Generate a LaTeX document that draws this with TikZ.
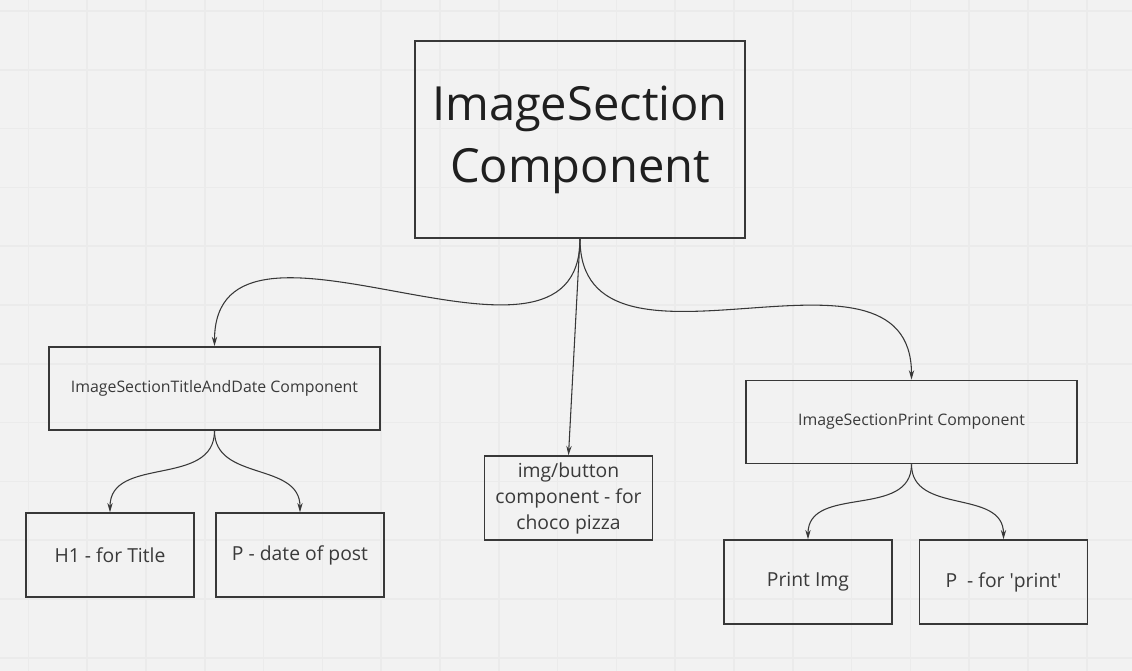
\documentclass[tikz,border=0pt]{standalone}
\usepackage{fontspec}
\setmainfont{Open Sans}
\usetikzlibrary{arrows.meta}
\definecolor{boardbg}{HTML}{F2F2F2}
\definecolor{gridline}{HTML}{EBEBEB}
\definecolor{boxline}{HTML}{383838}
\definecolor{labeltext}{HTML}{3A3A3A}

\begin{document}
\begin{tikzpicture}[
x=0.75pt, y=0.75pt,
>={Stealth[length=7pt,width=4pt]},
comp/.style={draw=boxline, line width=1.1pt, text=labeltext, align=center, inner sep=0pt},
mainbox/.style={comp, minimum width=247.5pt, minimum height=147.75pt, text=black!88, font=\fontsize{35.3}{46.5}\selectfont},
widebox/.style={comp, minimum width=248.25pt, minimum height=62.5pt, font=\fontsize{11.9}{14}\selectfont},
leafbox/.style={comp, minimum width=126.25pt, minimum height=63pt, font=\fontsize{14.5}{19.5}\selectfont},
arrow/.style={draw=boxline, line width=0.8pt, ->}
]

\fill[boardbg] (0,0) rectangle (1132,671);
\useasboundingbox (0,0) rectangle (1132,671);
\foreach \i in {0,...,19}
  \draw[gridline, line width=1.2pt] ({28.3+58.8*\i},0) -- ++(0,671);
\foreach \i in {0,...,11}
  \draw[gridline, line width=1.2pt] (0,{660-58.8*\i}) -- ++(1132,0);

\node[mainbox] (imagesection) at (580,531.5) {ImageSection\\Component};
\node[widebox] (titleanddate) at (214.5,282.5) {ImageSectionTitleAndDate Component};
\node[widebox] (print) at (911.5,249) {ImageSectionPrint Component};
\node[leafbox] (imgbutton) at (568.5,173) {img/button\\component - for\\choco pizza};
\node[leafbox] (h1title) at (110,116) {H1 - for Title};
\node[leafbox] (pdate) at (300,116) {P - date of post};
\node[leafbox] (printimg) at (808,89) {Print Img};
\node[leafbox] (pprint) at (1003.5,89) {P\ \ - for \textquotesingle print\textquotesingle};

\path[arrow] (imagesection.south) to[out=-90, in=90, looseness=1.15] (titleanddate.north);
\path[arrow] (imagesection.south) -- (imgbutton.north);
\path[arrow] (imagesection.south) to[out=-90, in=90, looseness=1.15] (print.north);
\path[arrow] (titleanddate.south) to[out=-90, in=90, looseness=1.1] (h1title.north);
\path[arrow] (titleanddate.south) to[out=-90, in=90, looseness=1.1] (pdate.north);
\path[arrow] (print.south) to[out=-90, in=90, looseness=1.1] (printimg.north);
\path[arrow] (print.south) to[out=-90, in=90, looseness=1.1] (pprint.north);

\end{tikzpicture}
\end{document}
